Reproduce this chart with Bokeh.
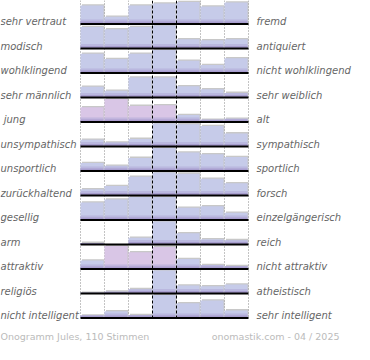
from bokeh.plotting import figure
from bokeh.models import Range1d
from bokeh.embed import file_html
from bokeh.resources import INLINE
from bokeh.core.properties import value

# ---------------- data ----------------
left_labels = ["sehr vertraut", "modisch", "wohlklingend", "sehr männlich", "\u00a0jung",
               "unsympathisch", "unsportlich", "zurückhaltend", "gesellig", "arm",
               "attraktiv", "religiös", "nicht intelligent"]
right_labels = ["fremd", "antiquiert", "nicht wohlklingend", "sehr weiblich", "alt",
                "sympathisch", "sportlich", "forsch", "einzelgängerisch", "reich",
                "nicht attraktiv", "atheistisch", "sehr intelligent"]

v_vertraut = [80, 31, 80, 89, 96, 76, 93]
v_modisch = [93, 84, 93, 100, 40, 36, 40]
v_wohlklingend = [84, 61, 84, 100, 53, 35, 64]
v_maennlich = [47, 29, 87, 87, 49, 36, 20]
v_jung = [64, 100, 70, 73, 30, 10, 14]
v_unsympathisch = [29, 17, 33, 100, 97, 89, 57]
v_unsportlich = [35, 23, 57, 100, 80, 73, 61]
v_zurueckhaltend = [27, 41, 81, 100, 95, 73, 53]
v_gesellig = [76, 89, 100, 100, 53, 60, 31]
v_arm = [7, 0, 29, 100, 49, 23, 19]
v_attraktiv = [37, 100, 73, 96, 43, 17, 13]
v_religioes = [3, 8, 19, 100, 35, 31, 39]
v_nicht_intelligent = [11, 29, 13, 100, 64, 76, 33]

pink_jung = [1, 1, 1, 1, 0, 0, 0]
pink_attraktiv = [0, 1, 1, 1, 0, 0, 0]

footer_left = "Onogramm Jules, 110 Stimmen"
footer_right = "onomastik.com - 04 / 2025"

rows = [v_vertraut, v_modisch, v_wohlklingend, v_maennlich, v_jung, v_unsympathisch,
        v_unsportlich, v_zurueckhaltend, v_gesellig, v_arm, v_attraktiv, v_religioes,
        v_nicht_intelligent]
pink = [[0] * 7 for _ in rows]
pink[4] = pink_jung
pink[10] = pink_attraktiv

# ---------------- layout ----------------
W, H = 354, 344
X0, CW = 80, 24
NCOL = 7
PITCH = 24.5
B0 = 23.5
MAXH = 23.0
VMAX = 100.0

p = figure(width=W, height=H, x_range=Range1d(0, W), y_range=Range1d(H, 0),
           output_backend="svg", toolbar_location=None, min_border=0,
           x_axis_location=None, y_axis_location=None)
p.xgrid.visible = False
p.ygrid.visible = False
p.outline_line_color = None
p.background_fill_color = "white"

nrows = len(rows)
last_base = B0 + PITCH * (nrows - 1)

# dotted grid lines
dot_x = [X0 + k * CW for k in (0, 1, 2, 5, 6, 7)]
p.segment(x0=dot_x, x1=dot_x, y0=[0] * len(dot_x), y1=[last_base] * len(dot_x),
          line_color="#888888", line_width=1, line_dash="1 2")

sh = dict(l=[], r=[], t=[], b=[])
bar = dict(l=[], r=[], t=[], b=[], c=[])
s1 = dict(l=[], r=[], t=[], b=[])
s2 = dict(l=[], r=[], t=[], b=[])
for ri, vals in enumerate(rows):
    base = B0 + PITCH * ri
    for ci, v in enumerate(vals):
        if v <= 0:
            continue
        h = v / VMAX * MAXH
        left = X0 + ci * CW
        right = left + CW
        top = base - h
        sh["l"].append(left + 1.5); sh["r"].append(right); sh["t"].append(top - 1.3); sh["b"].append(base)
        bar["l"].append(left); bar["r"].append(right - 1); bar["t"].append(top); bar["b"].append(base)
        bar["c"].append("#d9c6e6" if pink[ri][ci] else "#c6cbe9")
        s1["l"].append(left); s1["r"].append(right - 1); s1["t"].append(max(top, base - 4.5)); s1["b"].append(base)
        s2["l"].append(left); s2["r"].append(right - 1); s2["t"].append(max(top, base - 2.5)); s2["b"].append(base)

p.quad(left=sh["l"], right=sh["r"], top=sh["t"], bottom=sh["b"],
       fill_color="#9a9a9a", fill_alpha=0.55, line_color=None)
p.quad(left=bar["l"], right=bar["r"], top=bar["t"], bottom=bar["b"],
       fill_color=bar["c"], line_color=None)
p.quad(left=s1["l"], right=s1["r"], top=s1["t"], bottom=s1["b"],
       fill_color="#b3acd8", fill_alpha=0.6, line_color=None)
p.quad(left=s2["l"], right=s2["r"], top=s2["t"], bottom=s2["b"],
       fill_color="#9c8cc4", fill_alpha=0.6, line_color=None)

# baselines
bases = [B0 + PITCH * i for i in range(nrows)]
p.segment(x0=[X0] * nrows, x1=[X0 + NCOL * CW] * nrows, y0=bases, y1=bases,
          line_color="black", line_width=2)

# dashed centre lines
dash_x = [X0 + 3 * CW, X0 + 4 * CW]
p.segment(x0=dash_x, x1=dash_x, y0=[0, 0], y1=[last_base, last_base],
          line_color="black", line_width=1, line_dash="3 2")

# labels
lab_y = [b - 2.5 for b in bases]
p.text(x=[0] * nrows, y=lab_y, text=left_labels, text_font=value("DejaVu Sans"),
       text_font_style="italic", text_font_size="10px", text_color="#666666",
       text_baseline="alphabetic", text_align="left")
p.text(x=[X0 + NCOL * CW + 8] * nrows, y=lab_y, text=right_labels, text_font=value("DejaVu Sans"),
       text_font_style="italic", text_font_size="10px", text_color="#666666",
       text_baseline="alphabetic", text_align="left")

# footer
p.text(x=[0], y=[336], text=[footer_left], text_font=value("DejaVu Sans"),
       text_font_size="9.5px", text_color="#bbbbbb", text_baseline="alphabetic", text_align="left")
p.text(x=[339], y=[336], text=[footer_right], text_font=value("DejaVu Sans"),
       text_font_size="9.5px", text_color="#bbbbbb", text_baseline="alphabetic", text_align="right")

open("out.html", "w").write(file_html(p, INLINE))
